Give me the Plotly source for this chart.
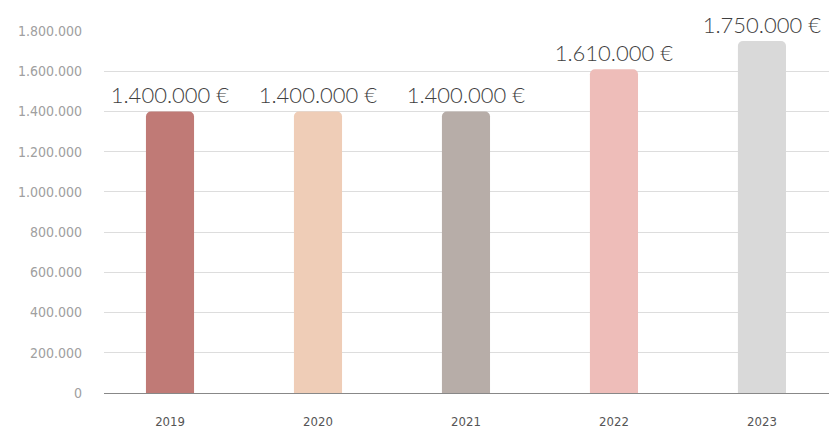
import plotly.graph_objects as go

years = ["2019", "2020", "2021", "2022", "2023"]
values = [1400000, 1400000, 1400000, 1610000, 1750000]
labels = ["1.400.000 €", "1.400.000 €", "1.400.000 €", "1.610.000 €", "1.750.000 €"]
colors = ["#c07a76", "#efcdb7", "#b7ada8", "#eebdb9", "#d9d9d9"]
ytick_vals = [0, 200000, 400000, 600000, 800000, 1000000, 1200000, 1400000, 1600000, 1800000]
ytick_text = ["0", "200.000", "400.000", "600.000", "800.000", "1.000.000",
              "1.200.000", "1.400.000", "1.600.000", "1.800.000"]

fig = go.Figure(go.Bar(
    x=years, y=values, text=labels, textposition="outside",
    marker=dict(color=colors, line=dict(width=0)),
    width=0.325, cliponaxis=False, constraintext="none",
    textfont=dict(family="Lato", size=22, color="#3f3f3f", weight=300),
))
fig.update_layout(
    width=829, height=428,
    margin=dict(l=104, r=0, t=31, b=35, autoexpand=False),
    plot_bgcolor="white", paper_bgcolor="white",
    barcornerradius=5, showlegend=False,
    xaxis=dict(range=[-0.446, 4.453], showline=True, linecolor="#888888", linewidth=1,
               ticks="", tickfont=dict(family="DejaVu Sans Condensed", size=13, color="#555555"),
               ticklabelstandoff=16, automargin=False),
    yaxis=dict(range=[0, 1800000], tickvals=ytick_vals, ticktext=ytick_text,
               gridcolor="#dddddd", gridwidth=1, zeroline=False,
               tickfont=dict(family="DejaVu Sans Condensed", size=14, color="#a0a0a0"),
               ticklabelstandoff=21, automargin=False),
)
fig.write_html("out.html", config={"displayModeBar": False},
               post_script="document.body.style.margin='0';document.body.style.padding='0';")
